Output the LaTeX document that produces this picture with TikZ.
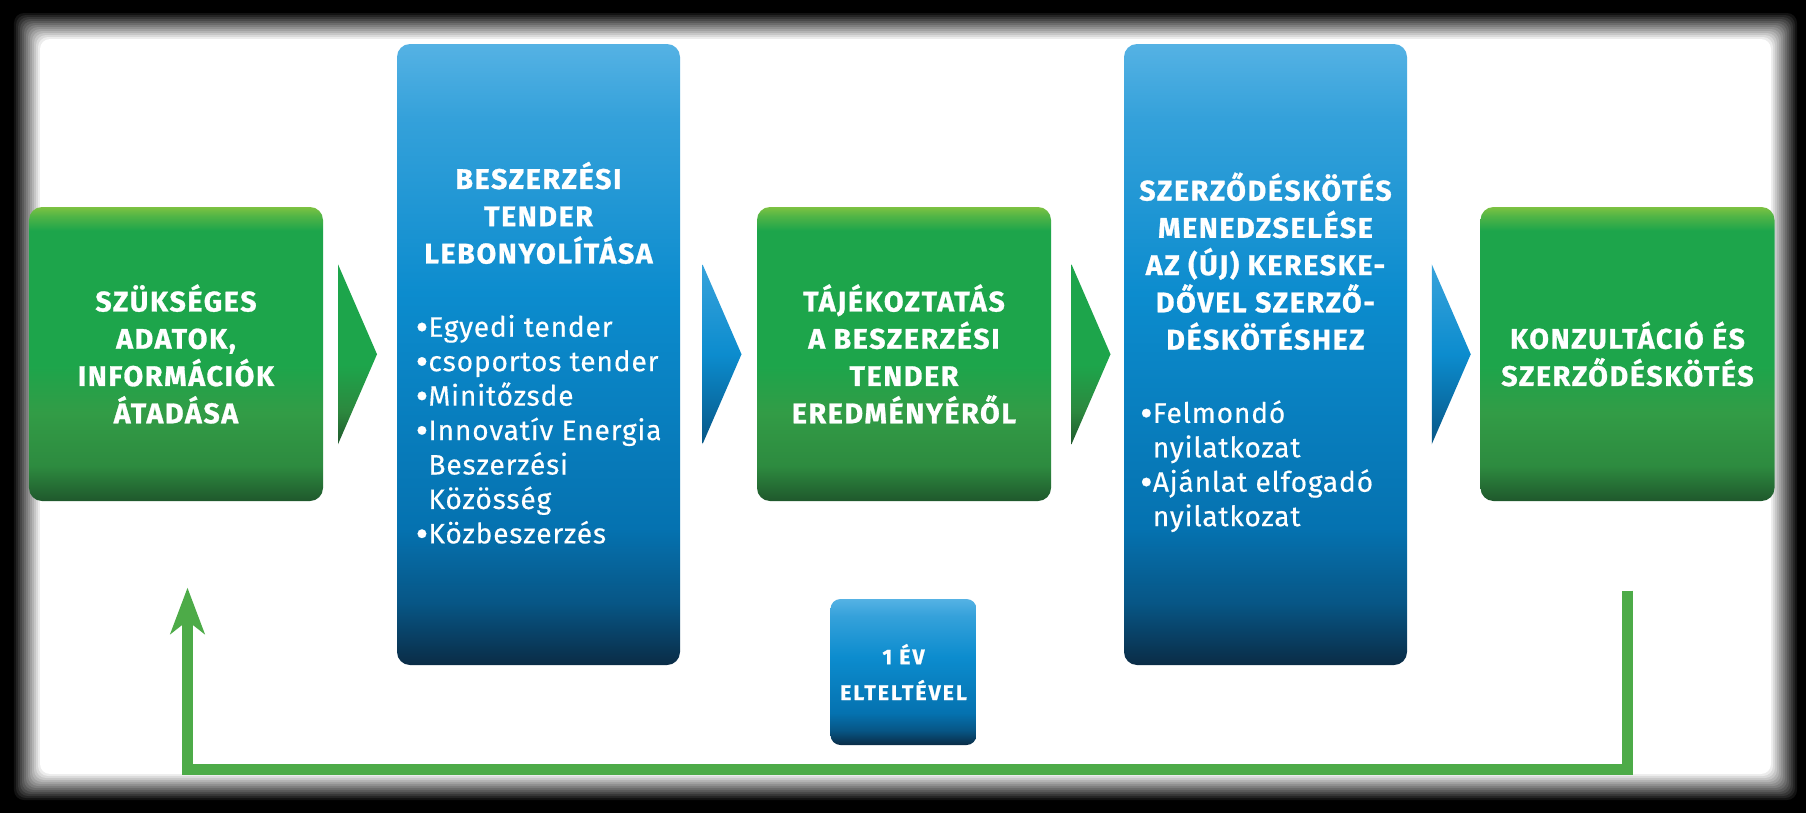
\documentclass[tikz,border=0pt]{standalone}
\usepackage{fontspec}
\setmainfont{Fira Sans}
\newfontfamily\headfont{Fira Sans}[LetterSpace=6, BoldFeatures={FakeBold=1}]
\newfontfamily\bulletfont{Fira Sans}[LetterSpace=3, FakeBold=0.4]
\newfontfamily\smallhead{Fira Sans}[LetterSpace=10, BoldFeatures={FakeBold=1}]
\usetikzlibrary{calc,arrows.meta}

\definecolor{gtop}{RGB}{125,194,66}
\definecolor{gmain}{RGB}{29,165,75}
\definecolor{glow}{RGB}{50,156,70}
\definecolor{gbot}{RGB}{31,88,44}
\definecolor{btop}{RGB}{85,178,228}
\definecolor{bmain}{RGB}{12,140,206}
\definecolor{blow}{RGB}{5,114,176}
\definecolor{bbot}{RGB}{10,44,70}
\definecolor{loopgreen}{RGB}{77,171,72}

\pgfdeclareverticalshading{greenshade}{100bp}{color(0bp)=(gbot); color(25bp)=(gbot);
  color(31bp)=(glow!75!gbot); color(40bp)=(glow); color(48bp)=(gmain); color(71bp)=(gmain);
  color(73.5bp)=(gtop!55!gmain); color(75bp)=(gtop); color(100bp)=(gtop)}
\pgfdeclareverticalshading{blueshade}{100bp}{color(0bp)=(bbot); color(25bp)=(bbot);
  color(30bp)=(blow!60!bbot); color(36bp)=(blow); color(55bp)=(bmain); color(69bp)=(btop!55!bmain);
  color(75bp)=(btop); color(100bp)=(btop)}
\pgfdeclareverticalshading{greentri}{100bp}{color(0bp)=(gbot); color(25bp)=(gbot);
  color(34bp)=(glow!70!gbot); color(47bp)=(gmain); color(75bp)=(gmain); color(100bp)=(gmain)}
\pgfdeclareverticalshading{bluetri}{100bp}{color(0bp)=(blow!60!bbot); color(25bp)=(blow!60!bbot);
  color(50bp)=(bmain); color(75bp)=(btop!60!bmain); color(100bp)=(btop!60!bmain)}

\newcommand{\bul}{\makebox[0.13cm][c]{\raisebox{-1pt}{\fontsize{11}{11}\selectfont•}}}
\newcommand{\ind}{\hspace*{0.13cm}}
\newcommand{\bullets}[1]{{\bulletfont\mdseries\fontsize{8}{9.8}\selectfont
  \begin{tabular}[t]{@{}l@{}}#1\end{tabular}}}

\tikzset{
  greenbox/.style={shade, shading=greenshade, rounded corners=0.13cm, inner sep=0pt,
    minimum width=2.94cm, minimum height=2.94cm, text=white, align=center,
    font=\headfont\bfseries\fontsize{8.1}{10.6}\selectfont},
  bluebox/.style={greenbox, shading=blueshade, minimum width=2.83cm, minimum height=6.21cm},
  smallbox/.style={bluebox, rounded corners=0.1cm, minimum width=1.46cm, minimum height=1.46cm,
    font=\smallhead\bfseries\fontsize{6}{10.2}\selectfont},
  loopline/.style={draw=loopgreen, line width=0.105cm,
    -{Stealth[length=4.6mm, width=3.4mm, inset=1.3mm]}}
}

\begin{document}
\begin{tikzpicture}
\useasboundingbox (0,0) rectangle (18.06,8.13);
\fill[black] (0,0) rectangle (18.06,8.13);
\foreach \k in {1,...,14}{
  \pgfmathsetmacro\op{1/(15-\k)}
  \fill[white, opacity=\op, rounded corners=0.1cm] ({0.12+0.02*\k},{0.11+0.02*\k})
    rectangle ({17.99-0.02*\k},{8.02-0.02*\k});
}

\node[greenbox] (g1) at (1.76,4.59) {SZÜKSÉGES\\ADATOK,\\INFORMÁCIÓK\\ÁTADÁSA};
\node[bluebox] (b1) at (5.385,4.585) {BESZERZÉSI\\TENDER\\LEBONYOLÍTÁSA\\[0.36cm]
  \bullets{\bul Egyedi tender\\\bul csoportos tender\\\bul Minitőzsde\\
  \bul Innovatív Energia\\\ind Beszerzési\\\ind Közösség\\\bul Közbeszerzés}\\[-0.1cm]};
\node[greenbox] (g2) at (9.04,4.59) {TÁJÉKOZTATÁS\\A BESZERZÉSI\\TENDER\\EREDMÉNYÉRŐL};
\node[bluebox] (b2) at (12.655,4.585) {SZERZŐDÉSKÖTÉS\\MENEDZSELÉSE\\AZ (ÚJ) KERESKE-\\
  DŐVEL SZERZŐ-\\DÉSKÖTÉSHEZ\\[0.36cm]
  \hspace*{-0.18cm}\bullets{\bul Felmondó\\\ind nyilatkozat\\\bul Ajánlat elfogadó\\\ind nyilatkozat}};
\node[greenbox] (g3) at (16.275,4.59) {KONZULTÁCIÓ ÉS\\SZERZŐDÉSKÖTÉS};
\node[smallbox] (s1) at (9.035,1.41) {1 ÉV\\ELTELTÉVEL};

\foreach \a/\b/\sh/\dx in {g1/b1/greentri/-0.06, b1/g2/bluetri/0, g2/b2/greentri/0, b2/g3/bluetri/0.04}{
  \coordinate (m) at ($(\a.east)!.5!(\b.west)+(\dx,0)$);
  \shade[shading=\sh] ($(m)+(-0.16,0.9)$) -- ($(m)+(0.23,0)$) -- ($(m)+(-0.16,-0.9)$) -- cycle;
}

\coordinate (fbstart) at ($(g3.south)+(0,-0.89)$);
\coordinate (fbend) at ($(g1.south)+(0.115,-0.86)$);
\draw[loopline] (fbstart) -- ++(0,-1.79) -| (fbend);
\end{tikzpicture}
\end{document}
